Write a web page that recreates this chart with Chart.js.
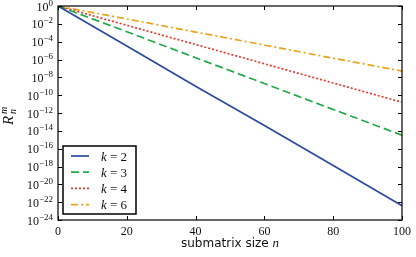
<!DOCTYPE html>
<html>
<head>
<meta charset="utf-8">
<script src="https://cdn.jsdelivr.net/npm/chart.js@4.4.0/dist/chart.umd.min.js"></script>
<style>
    html, body { margin: 0; padding: 0; background: #fff; }
    #wrap { width: 416px; height: 257px; position: relative; }
</style>
</head>
<body>
<div id="wrap"><canvas id="decayChart"></canvas></div>
<script>
// values (log scale, straight lines)
const nValues = [0, 20, 40, 60, 80, 100];
const k2Values = [1, 3.2e-5, 1e-9, 4e-14, 1.3e-18, 4e-23];
const k3Values = [1, 1.3e-3, 1.6e-6, 2e-9, 2.5e-12, 3.2e-15];
const k4Values = [1, 6.9e-3, 4.8e-5, 3.3e-7, 2.3e-9, 1.6e-11];
const k6Values = [1, 3.5e-2, 1.2e-3, 4.2e-5, 1.4e-6, 5e-8];
const kLabels = ['2', '3', '4', '6'];
const xTicks = [0, 20, 40, 60, 80, 100];
const yExponents = [0, -2, -4, -6, -8, -10, -12, -14, -16, -18, -20, -22, -24];

const SERIF = '"Liberation Serif", "DejaVu Serif", serif';
const SANS = '"DejaVu Sans", "Liberation Sans", sans-serif';

function toPoints(vals) {
    return nValues.map(function(n, i) { return { x: n, y: vals[i] }; });
}

const seriesStyles = [
    { color: '#2b4aa0', dash: [] },
    { color: '#21a847', dash: [8, 4] },
    { color: '#e5392c', dash: [2, 2] },
    { color: '#e9a41d', dash: [7, 3, 2, 3] }
];

const datasets = [k2Values, k3Values, k4Values, k6Values].map(function(vals, i) {
    return {
        label: 'k = ' + kLabels[i],
        data: toPoints(vals),
        borderColor: seriesStyles[i].color,
        borderDash: seriesStyles[i].dash,
        borderWidth: 1.7,
        pointRadius: 0,
        fill: false,
        tension: 0
    };
});

// frame, inward ticks, y labels with exponents, axis titles, legend
const decorPlugin = {
    id: 'decor',
    afterDraw: function(chart) {
        const ctx = chart.ctx;
        const a = chart.chartArea;
        const xs = chart.scales.x;
        const ys = chart.scales.y;
        ctx.save();

        ctx.strokeStyle = '#000';
        ctx.lineWidth = 1.2;
        ctx.strokeRect(a.left, a.top, a.right - a.left, a.bottom - a.top);

        ctx.lineWidth = 1;
        ctx.beginPath();
        xTicks.forEach(function(t) {
            const px = Math.round(xs.getPixelForValue(t)) + 0.5;
            ctx.moveTo(px, a.bottom); ctx.lineTo(px, a.bottom - 4);
            ctx.moveTo(px, a.top); ctx.lineTo(px, a.top + 4);
        });
        yExponents.forEach(function(e) {
            const py = Math.round(ys.getPixelForValue(Math.pow(10, e))) + 0.5;
            ctx.moveTo(a.left, py); ctx.lineTo(a.left + 4, py);
            ctx.moveTo(a.right, py); ctx.lineTo(a.right - 4, py);
        });
        ctx.stroke();

        // y tick labels: 10 with superscript exponent
        ctx.fillStyle = '#111';
        ctx.textBaseline = 'alphabetic';
        ctx.textAlign = 'left';
        yExponents.forEach(function(e) {
            const py = ys.getPixelForValue(Math.pow(10, e));
            const expText = e === 0 ? '0' : '\u2212' + Math.abs(e);
            ctx.font = '9px ' + SERIF;
            const ew = ctx.measureText(expText).width;
            ctx.font = '12px ' + SERIF;
            const bw = ctx.measureText('10').width;
            const right = a.left - 5;
            ctx.fillText('10', right - ew - bw, py + 4.5);
            ctx.font = '9px ' + SERIF;
            ctx.fillText(expText, right - ew, py - 0.5);
        });

        // x title
        ctx.font = '12px ' + SANS;
        const t1 = 'submatrix size ';
        const w1 = ctx.measureText(t1).width;
        ctx.font = 'italic 13px ' + SERIF;
        const w2 = ctx.measureText('n').width;
        const cx = (a.left + a.right) / 2;
        let sx = cx - (w1 + w2) / 2;
        ctx.font = '12px ' + SANS;
        ctx.fillText(t1, sx, 247);
        ctx.font = 'italic 13px ' + SERIF;
        ctx.fillText('n', sx + w1, 247);

        // y title R_n^m
        ctx.save();
        ctx.translate(13, 114);
        ctx.rotate(-Math.PI / 2);
        ctx.font = 'italic 15px ' + SERIF;
        ctx.fillText('R', -11, 0);
        ctx.font = 'italic 10px ' + SERIF;
        ctx.fillText('m', 0, -6);
        ctx.fillText('n', 0, 3);
        ctx.restore();

        // legend box
        const lx = 63, ly = 146, lw = 73, lh = 68;
        ctx.fillStyle = '#fff';
        ctx.fillRect(lx, ly, lw, lh);
        ctx.strokeStyle = '#000';
        ctx.lineWidth = 1.5;
        ctx.strokeRect(lx, ly, lw, lh);
        datasets.forEach(function(ds, i) {
            const ry = 156 + i * 16.2;
            ctx.strokeStyle = ds.borderColor;
            ctx.lineWidth = 1.7;
            ctx.setLineDash(ds.borderDash);
            ctx.beginPath();
            ctx.moveTo(71, ry); ctx.lineTo(89, ry);
            ctx.stroke();
            ctx.setLineDash([]);
            ctx.fillStyle = '#111';
            ctx.font = 'italic 13px ' + SERIF;
            ctx.fillText('k', 101, ry + 4.5);
            const kw = ctx.measureText('k').width;
            ctx.font = '13px ' + SERIF;
            ctx.fillText(' = ' + kLabels[i], 101 + kw, ry + 4.5);
        });

        ctx.restore();
    }
};

const chart = new Chart(document.getElementById('decayChart'), {
    type: 'line',
    data: { datasets: datasets },
    options: {
        responsive: true,
        maintainAspectRatio: false,
        animation: false,
        layout: { padding: { top: 6, right: 11, left: 0, bottom: 0 } },
        plugins: {
            legend: { display: false },
            tooltip: { enabled: false }
        },
        scales: {
            x: {
                type: 'linear',
                min: 0,
                max: 100,
                grid: { display: false, drawTicks: false },
                border: { display: false },
                ticks: {
                    stepSize: 20,
                    padding: 5,
                    color: '#111',
                    font: { family: SERIF, size: 12 },
                    maxRotation: 0
                },
                afterFit: function(scale) { scale.height = 37; }
            },
            y: {
                type: 'logarithmic',
                min: 1e-24,
                max: 1,
                grid: { display: false, drawTicks: false },
                border: { display: false },
                ticks: { display: false },
                afterBuildTicks: function(scale) {
                    scale.ticks = yExponents.map(function(e) { return { value: Math.pow(10, e) }; });
                },
                afterFit: function(scale) { scale.width = 58; }
            }
        }
    },
    plugins: [decorPlugin]
});
</script>
</body>
</html>
